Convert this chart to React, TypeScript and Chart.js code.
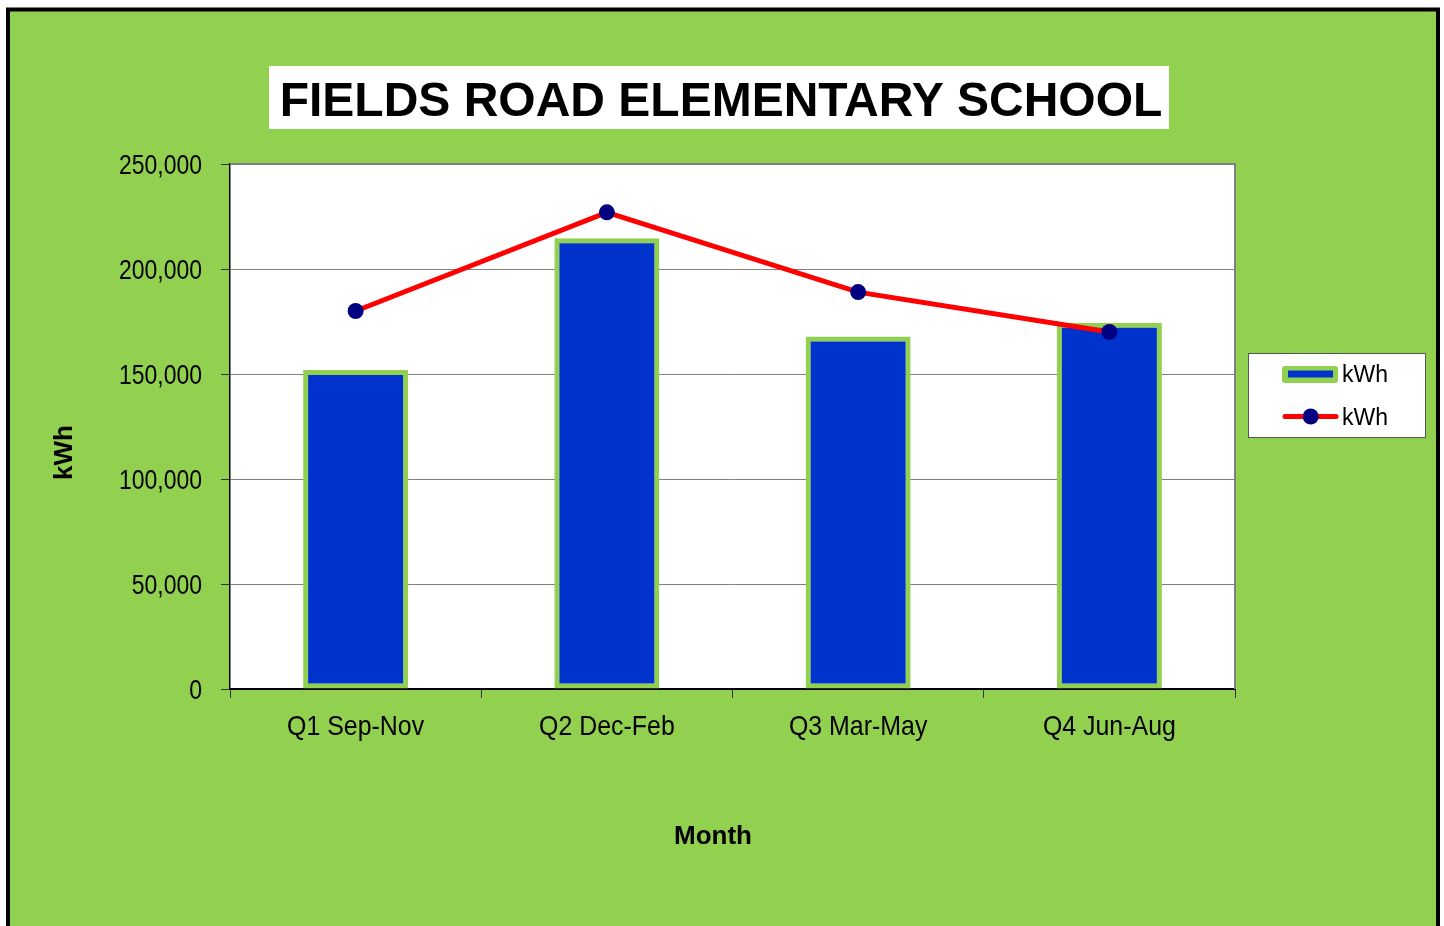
import React, { useEffect, useRef } from "react";
import { Chart, registerables } from "chart.js";

Chart.register(...registerables);

const chartTitle = "FIELDS ROAD ELEMENTARY SCHOOL";
const xAxisTitle = "Month";
const yAxisTitle = "kWh";
const categories = ["Q1 Sep-Nov", "Q2 Dec-Feb", "Q3 Mar-May", "Q4 Jun-Aug"];
const barLabel = "kWh";
const barValues = [151900, 214600, 167800, 174400];
const lineLabel = "kWh";
const lineValues = [180000, 227000, 189000, 170000];
const yMin = 0;
const yMax = 250000;
const yStep = 50000;

const GREEN = "#92D050";
const BLUE = "#0033CC";
const RED = "#FF0000";
const NAVY = "#000080";
const SANS = "'Liberation Sans', Arial, sans-serif";

const decorPlugin = {
  id: "decor",
  beforeDraw(chart: any) {
    const ctx = chart.ctx;
    const { left, top, right, bottom } = chart.chartArea;
    ctx.save();
    ctx.fillStyle = "#ffffff";
    ctx.fillRect(0, 0, chart.width, chart.height);
    ctx.fillStyle = GREEN;
    ctx.fillRect(8, 9.5, 1430, 1000);
    ctx.strokeStyle = "#000000";
    ctx.lineWidth = 4;
    ctx.strokeRect(8, 9.5, 1430, 1000);
    ctx.fillStyle = "#ffffff";
    ctx.fillRect(left, top, right - left, bottom - top);
    ctx.restore();
  },
  beforeDatasetsDraw(chart: any) {
    const ctx = chart.ctx;
    const { top, right, bottom } = chart.chartArea;
    ctx.save();
    ctx.strokeStyle = "#808080";
    ctx.lineWidth = 2;
    ctx.beginPath();
    ctx.moveTo(right, top - 1);
    ctx.lineTo(right, bottom);
    ctx.stroke();
    ctx.beginPath();
    ctx.moveTo(chart.chartArea.left, top);
    ctx.lineTo(right, top);
    ctx.stroke();
    ctx.restore();
  },
  afterDraw(chart: any) {
    const ctx = chart.ctx;
    const ds = chart.data.datasets;
    ctx.save();
    // Title box
    ctx.fillStyle = "#ffffff";
    ctx.fillRect(269, 66, 900, 63);
    ctx.fillStyle = "#000000";
    ctx.font = `bold 48px ${SANS}`;
    ctx.textAlign = "center";
    ctx.textBaseline = "alphabetic";
    ctx.fillText(chartTitle, 721, 116);

    // Tick labels (narrow style), positioned by the library's scales
    ctx.font = `28px ${SANS}`;
    const ys = chart.scales.y;
    ys.ticks.forEach((t: any, i: number) => {
      const py = ys.getPixelForTick(i);
      ctx.save();
      ctx.translate(202, py + 10);
      ctx.scale(0.82, 1);
      ctx.textAlign = "right";
      ctx.fillText(String(t.label), 0, 0);
      ctx.restore();
    });
    const xs = chart.scales.x;
    xs.ticks.forEach((t: any, i: number) => {
      const px = xs.getPixelForTick(i);
      ctx.save();
      ctx.translate(px, 735);
      ctx.scale(0.89, 1);
      ctx.textAlign = "center";
      ctx.fillText(String(xs.getLabelForValue(t.value)), 0, 0);
      ctx.restore();
    });

    // Axis titles
    ctx.textAlign = "center";
    ctx.font = `bold 26px ${SANS}`;
    ctx.fillText(xAxisTitle, 713, 844);
    ctx.save();
    ctx.translate(72, 452.5);
    ctx.rotate(-Math.PI / 2);
    ctx.fillText(yAxisTitle, 0, 0);
    ctx.restore();

    // Legend
    ctx.fillStyle = "#ffffff";
    ctx.fillRect(1248.5, 353.5, 177, 84);
    ctx.strokeStyle = "#555555";
    ctx.lineWidth = 1;
    ctx.strokeRect(1248.5, 353.5, 177, 84);

    const bar = ds[0];
    ctx.fillStyle = bar.borderColor;
    ctx.beginPath();
    (ctx as any).roundRect(1282, 366, 56, 17, 3);
    ctx.fill();
    ctx.fillStyle = bar.backgroundColor;
    ctx.fillRect(1288, 370.5, 45, 7);

    const line = ds[1];
    ctx.strokeStyle = line.borderColor;
    ctx.lineWidth = 5;
    ctx.lineCap = "round";
    ctx.beginPath();
    ctx.moveTo(1285, 416.5);
    ctx.lineTo(1336, 416.5);
    ctx.stroke();
    ctx.fillStyle = line.pointBackgroundColor;
    ctx.beginPath();
    ctx.arc(1310.7, 416.5, 8, 0, Math.PI * 2);
    ctx.fill();

    ctx.fillStyle = "#000000";
    ctx.font = `23px ${SANS}`;
    ctx.textAlign = "left";
    ctx.fillText(bar.label, 1342, 382);
    ctx.fillText(line.label, 1342, 425);
    ctx.restore();
  },
};

export default function App() {
  const ref = useRef<HTMLCanvasElement | null>(null);

  useEffect(() => {
    if (!ref.current) return;
    const chart = new Chart(ref.current, {
      type: "bar",
      data: {
        labels: categories,
        datasets: [
          {
            type: "bar",
            label: barLabel,
            data: barValues,
            backgroundColor: BLUE,
            borderColor: GREEN,
            borderWidth: 5,
            borderSkipped: false,
            barPercentage: 0.418,
            categoryPercentage: 1,
            order: 1,
          } as any,
          {
            type: "line",
            label: lineLabel,
            data: lineValues,
            borderColor: RED,
            borderWidth: 5,
            pointBackgroundColor: NAVY,
            pointBorderColor: NAVY,
            pointBorderWidth: 0,
            pointRadius: 8,
            tension: 0,
            fill: false,
            order: 0,
          } as any,
        ],
      },
      options: {
        responsive: false,
        animation: false,
        devicePixelRatio: 1,
        layout: { padding: { left: 40, top: 164, right: 209, bottom: 137 } },
        plugins: {
          legend: { display: false },
          title: { display: false },
          tooltip: { enabled: false },
        },
        scales: {
          x: {
            type: "category",
            offset: true,
            afterFit: (s: any) => {
              s.height = 100;
            },
            grid: {
              display: true,
              offset: true,
              drawOnChartArea: false,
              drawTicks: true,
              tickLength: 9,
              tickColor: "#333333",
              lineWidth: 1,
            },
            border: { display: true, color: "#000000", width: 2 },
            ticks: { display: false, maxRotation: 0 },
          },
          y: {
            type: "linear",
            min: yMin,
            max: yMax,
            afterFit: (s: any) => {
              s.width = 190;
            },
            grid: {
              color: "#808080",
              lineWidth: 1,
              tickLength: 9,
              tickColor: "#333333",
            },
            border: { display: true, color: "#000000", width: 1.5 },
            ticks: {
              display: false,
              stepSize: yStep,
              callback: (v: any) => Number(v).toLocaleString("en-US"),
            },
          },
        },
      },
      plugins: [decorPlugin],
    });
    return () => chart.destroy();
  }, []);

  return (
    <div style={{ position: "fixed", left: 0, top: 0, width: 1444, height: 926 }}>
      <canvas ref={ref} width={1444} height={926} style={{ width: 1444, height: 926, display: "block" }} />
    </div>
  );
}
